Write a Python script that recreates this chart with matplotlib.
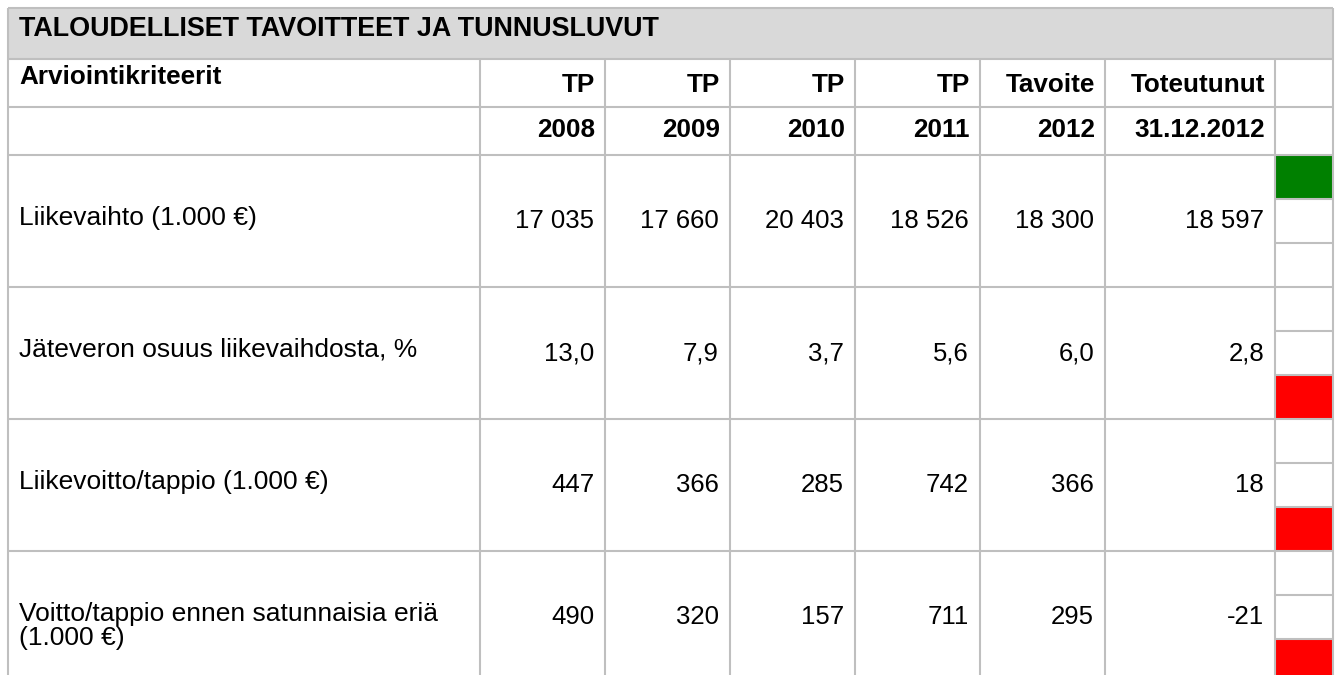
import matplotlib
matplotlib.use("Agg")
import matplotlib.pyplot as plt
from matplotlib.patches import Rectangle

plt.rcParams['font.family'] = ['Liberation Sans', 'DejaVu Sans']

title = "TALOUDELLISET TAVOITTEET JA TUNNUSLUVUT"
first_header = "Arviointikriteerit"
col_head1 = ["TP", "TP", "TP", "TP", "Tavoite", "Toteutunut"]
col_head2 = ["2008", "2009", "2010", "2011", "2012", "31.12.2012"]

criteria = [
    "Liikevaihto (1.000 €)",
    "Jäteveron osuus liikevaihdosta, %",
    "Liikevoitto/tappio (1.000 €)",
    "Voitto/tappio ennen satunnaisia eriä\n(1.000 €)",
]
liikevaihto = [17035, 17660, 20403, 18526, 18300, 18597]
jatevero_pct = [13.0, 7.9, 3.7, 5.6, 6.0, 2.8]
liikevoitto = [447, 366, 285, 742, 366, 18]
voitto_ennen = [490, 320, 157, 711, 295, -21]
# traffic light: 0 = top (green), 1 = middle, 2 = bottom (red)
status = [0, 2, 2, 2]
status_colors = ["#008000", "#FFC000", "#FF0000"]


def fmt_int(v):
    return f"{v:,}".replace(",", " ")


def fmt_pct(v):
    return f"{v:.1f}".replace(".", ",")


rows = [
    [fmt_int(v) for v in liikevaihto],
    [fmt_pct(v) for v in jatevero_pct],
    [fmt_int(v) for v in liikevoitto],
    [fmt_int(v) for v in voitto_ennen],
]

# layout in pixels
W, H = 1338, 675
col_x = [8, 480, 605, 730, 855, 980, 1105, 1275, 1333]
head_top, head_bot = 8, 59
h1_bot, h2_bot = 107, 155
row_h = 132
grid = "#BFBFBF"
lw = 1.5
fs = 18.5

fig = plt.figure(figsize=(W / 100, H / 100), dpi=100)
ax = fig.add_axes([0, 0, 1, 1])
ax.set_xlim(0, W)
ax.set_ylim(H, 0)
ax.axis("off")

left, right = col_x[0], col_x[-1]

# title band
ax.add_patch(Rectangle((left, head_top), right - left, head_bot - head_top,
                       facecolor="#D9D9D9", edgecolor="none"))
ax.text(19, 29.5, title, fontsize=19.4, fontweight="bold", va="center", ha="left")

# traffic-light cells
n = len(criteria)
for i in range(n):
    y0 = h2_bot + i * row_h
    sub = row_h / 3
    ax.add_patch(Rectangle((col_x[-2], y0 + status[i] * sub), col_x[-1] - col_x[-2], sub,
                           facecolor=status_colors[status[i]], edgecolor="none"))
    for k in (1, 2):
        ax.plot([col_x[-2], col_x[-1]], [y0 + k * sub] * 2, color=grid, lw=lw,
                solid_capstyle="butt")

# horizontal lines
bottom = h2_bot + n * row_h
hlines = [head_top, head_bot, h1_bot, h2_bot] + [h2_bot + (i + 1) * row_h for i in range(n)]
for y in hlines:
    ax.plot([left, right], [y, y], color=grid, lw=lw, solid_capstyle="butt")

# vertical lines
ax.plot([left, left], [head_top, bottom], color=grid, lw=lw, solid_capstyle="butt")
ax.plot([right, right], [head_top, bottom], color=grid, lw=lw, solid_capstyle="butt")
for x in col_x[1:-1]:
    ax.plot([x, x], [head_bot, bottom], color=grid, lw=lw, solid_capstyle="butt")

# header rows
ax.text(19, 77, first_header, fontsize=18.8, fontweight="bold", va="center", ha="left")
for j, (a, b) in enumerate(zip(col_head1, col_head2)):
    xr = col_x[j + 2] - 10
    ax.text(xr, 85, a, fontsize=18.8, fontweight="bold", va="center", ha="right")
    ax.text(xr, 130, b, fontsize=18.8, fontweight="bold", va="center", ha="right")

# data rows
for i, (label, vals) in enumerate(zip(criteria, rows)):
    yc = h2_bot + i * row_h + row_h / 2
    ly = yc - 3 if "\n" not in label else yc + 9
    ax.text(19, ly, label, fontsize=19, va="center", ha="left", linespacing=1.02)
    for j, v in enumerate(vals):
        ax.text(col_x[j + 2] - 11, yc, v, fontsize=fs, va="center", ha="right")

fig.savefig("out.png", dpi=100)
